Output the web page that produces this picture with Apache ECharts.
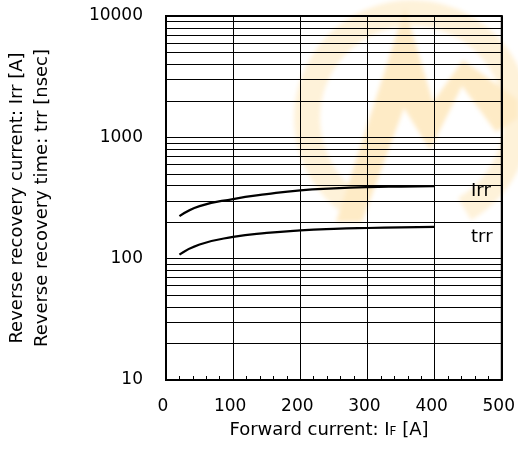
<!DOCTYPE html>
<html>
<head>
<meta charset="utf-8">
<script src="https://cdn.jsdelivr.net/npm/echarts@6/dist/echarts.min.js"></script>
<style>
html,body{margin:0;padding:0;background:#fff}
#wrap{position:relative;width:518px;height:459px}
#wm{position:absolute;left:0;top:0}
#c{position:absolute;left:0;top:0;width:518px;height:459px}
</style>
</head>
<body>
<div id="wrap">
<svg id="wm" width="518" height="459" xmlns="http://www.w3.org/2000/svg">
  <defs><filter id="bl"><feGaussianBlur stdDeviation="2"/></filter></defs>
  <g filter="url(#bl)">
    <path d="M 351.8 204 A 105 105 0 1 1 464.5 209" fill="none" stroke="#fef2d9" stroke-width="26"/>
    <polygon points="405,8 336,222 362,222 404,108 430,150 462,86 496,132 518,118 518,100 463,60 433,102" fill="#feebc6"/>
  </g>
</svg>
<div id="c"></div>
</div>
<script>
var forwardCurrent = [20, 50, 100, 150, 200, 250, 300, 350, 400];
var irrValues = [224, 271, 310, 340, 366, 380, 389, 393, 396];
var trrValues = [108, 131, 151, 163, 171, 176, 179, 181, 183];
var xTicks = [0, 100, 200, 300, 400, 500];
var yTicks = [10, 100, 1000, 10000];
var yMinorLines = [20,30,40,50,60,70,80,90,200,300,400,500,600,700,800,900,2000,3000,4000,5000,6000,7000,8000,9000];
var seriesNames = ['Irr', 'trr'];

var FONT = 'DejaVu Sans';
var chart = echarts.init(document.getElementById('c'), null, {renderer: 'canvas'});

function pairs(xs, ys) { return xs.map(function (x, i) { return [x, ys[i]]; }); }

var option = {
  animation: false,
  backgroundColor: 'transparent',
  grid: { left: 166, right: 14, top: 16, bottom: 79, show: true, borderColor: '#000', borderWidth: 2, backgroundColor: 'transparent', z: 3 },
  xAxis: {
    type: 'value', min: xTicks[0], max: xTicks[xTicks.length - 1], interval: 100,
    axisLine: { show: true, lineStyle: { color: '#000', width: 2 } },
    axisTick: { show: true, inside: true, length: 4, lineStyle: { color: '#000' } },
    minorTick: { show: true, splitNumber: 5, length: 4, lineStyle: { color: '#000', width: 1 } },
    splitLine: { show: true, lineStyle: { color: '#000', width: 1 } },
    axisLabel: { color: '#000', fontFamily: FONT, fontSize: 17, margin: 18, padding: [0, 6, 0, 0] }
  },
  yAxis: {
    type: 'log', logBase: 10, min: yTicks[0], max: yTicks[yTicks.length - 1],
    axisLine: { show: true, lineStyle: { color: '#000', width: 2 } },
    axisTick: { show: false },
    splitLine: { show: true, lineStyle: { color: '#000', width: 1 } },
    axisLabel: { color: '#000', fontFamily: FONT, fontSize: 17, margin: 23,
      formatter: function (v) { return String(Math.round(v)); } }
  },
  graphic: [
    { type: 'text', x: 17, y: 198, rotation: Math.PI / 2, z: 10,
      style: { text: 'Reverse recovery current: Irr [A]', font: '18px "DejaVu Sans"', fill: '#000', align: 'center', verticalAlign: 'middle' } },
    { type: 'text', x: 42, y: 198, rotation: Math.PI / 2, z: 10,
      style: { text: 'Reverse recovery time: trr [nsec]', font: '18px "DejaVu Sans"', fill: '#000', align: 'center', verticalAlign: 'middle' } },
    { type: 'text', x: 329, y: 430, z: 10,
      style: { text: '{a|Forward current: I}{b|F}{a| [A]}', fill: '#000', align: 'center', verticalAlign: 'middle',
        rich: { a: { fontFamily: FONT, fontSize: 18, color: '#000' }, b: { fontFamily: FONT, fontSize: 12, color: '#000', padding: [4, 0, 0, 0] } } } },
    { type: 'text', x: 471, y: 191, z: 10,
      style: { text: seriesNames[0], font: '18px "DejaVu Sans"', fill: '#000', align: 'left', verticalAlign: 'middle' } },
    { type: 'text', x: 471, y: 237, z: 10,
      style: { text: seriesNames[1], font: '18px "DejaVu Sans"', fill: '#000', align: 'left', verticalAlign: 'middle' } }
  ],
  series: [
    { name: seriesNames[0], type: 'line', data: pairs(forwardCurrent, irrValues), smooth: true, symbol: 'none',
      lineStyle: { color: '#000', width: 2.2 }, z: 5,
      markLine: { silent: true, symbol: 'none', label: { show: false },
        lineStyle: { color: '#000', width: 1, type: 'solid' },
        data: yMinorLines.map(function (v) { return { yAxis: v }; }) } },
    { name: seriesNames[1], type: 'line', data: pairs(forwardCurrent, trrValues), smooth: true, symbol: 'none',
      lineStyle: { color: '#000', width: 2.2 }, z: 5 }
  ]
};
chart.setOption(option);
</script>
</body>
</html>
